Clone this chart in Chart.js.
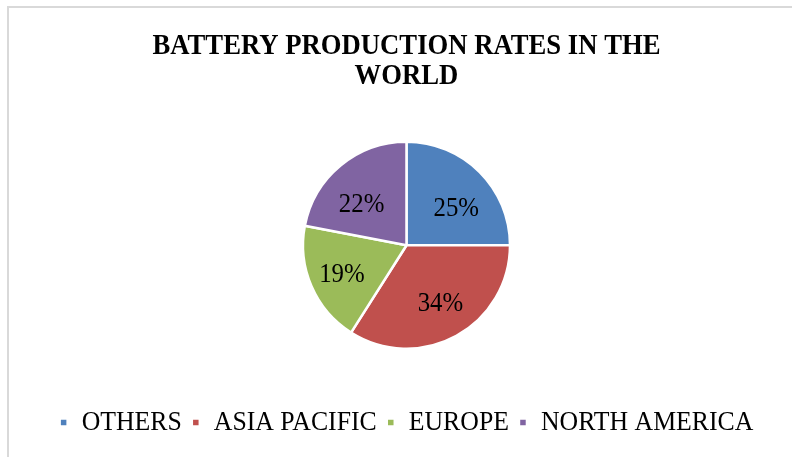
<!DOCTYPE html>
<html>
<head>
<meta charset="utf-8">
<script src="https://cdn.jsdelivr.net/npm/chart.js@4"></script>
<style>
  html, body { margin: 0; padding: 0; background: #fff; overflow: hidden; }
  #wrap { position: relative; width: 792px; height: 457px; }
  #frame { position: absolute; left: 7px; top: 6px; width: 900px; height: 600px;
           border-left: 2px solid #d9d9d9; border-top: 2px solid #d9d9d9; }
  canvas { position: absolute; left: 0; top: 0; }
</style>
</head>
<body>
<div id="wrap">
  <div id="frame"></div>
  <canvas id="c" width="792" height="457"></canvas>
</div>
<script>
const categories = ["OTHERS", "ASIA PACIFIC", "EUROPE", "NORTH AMERICA"];
const shares = [25, 34, 19, 22];
const sliceColors = ["#4F81BD", "#C0504D", "#9BBB59", "#8064A2"];
const titleLines = ["BATTERY PRODUCTION RATES IN THE", "WORLD"];

const SERIF = '"Liberation Serif", "Times New Roman", serif';
const CONDENSE = 0.92; // horizontal text compression seen in the reference

const canvas = document.getElementById('c');
const ctx = canvas.getContext('2d');
// draw all text slightly condensed horizontally, like the reference rendering
const origFill = ctx.fillText.bind(ctx);
const origMeasure = ctx.measureText.bind(ctx);
ctx.fillText = function (text, x, y, maxWidth) {
  this.save();
  this.translate(x, y);
  this.scale(CONDENSE, 1);
  if (maxWidth !== undefined) origFill(text, 0, 0, maxWidth / CONDENSE);
  else origFill(text, 0, 0);
  this.restore();
};
ctx.measureText = function (text) {
  const m = origMeasure(text);
  return {
    width: m.width * CONDENSE,
    actualBoundingBoxLeft: m.actualBoundingBoxLeft * CONDENSE,
    actualBoundingBoxRight: m.actualBoundingBoxRight * CONDENSE,
    actualBoundingBoxAscent: m.actualBoundingBoxAscent,
    actualBoundingBoxDescent: m.actualBoundingBoxDescent
  };
};

const labelPlugin = {
  id: 'sliceLabels',
  afterDatasetsDraw(chart) {
    const c = chart.ctx;
    const meta = chart.getDatasetMeta(0);
    const data = chart.data.datasets[0].data;
    const total = data.reduce((a, b) => a + b, 0);
    c.save();
    c.font = '27px ' + SERIF;
    c.fillStyle = '#000';
    c.textAlign = 'center';
    c.textBaseline = 'middle';
    meta.data.forEach((arc, i) => {
      const p = arc.getProps(['x', 'y', 'startAngle', 'endAngle', 'outerRadius'], true);
      const mid = (p.startAngle + p.endAngle) / 2;
      const rx = p.outerRadius * 0.68;
      const ry = p.outerRadius * 0.58;
      const txt = Math.round(data[i] / total * 100) + '%';
      c.fillText(txt, p.x + Math.cos(mid) * rx, p.y + Math.sin(mid) * ry + 6);
    });
    c.restore();
  }
};

new Chart(ctx, {
  type: 'pie',
  data: {
    labels: categories,
    datasets: [{
      data: shares,
      backgroundColor: sliceColors,
      borderColor: '#ffffff',
      borderWidth: 2.5,
      hoverOffset: 0
    }]
  },
  plugins: [labelPlugin],
  options: {
    responsive: false,
    animation: false,
    devicePixelRatio: 1,
    radius: 103.5,
    layout: { padding: { left: 21, right: 0, top: 0, bottom: 10.5 } },
    plugins: {
      tooltip: { enabled: false },
      title: {
        display: true,
        text: titleLines,
        color: '#000',
        font: { family: SERIF, size: 29, weight: 'bold', lineHeight: 1.034 },
        padding: { top: 32, bottom: 0 }
      },
      legend: {
        position: 'bottom',
        labels: {
          color: '#000',
          font: { family: SERIF, size: 28 },
          boxWidth: 8,
          boxHeight: 8,
          padding: 10
        }
      }
    }
  }
});
</script>
</body>
</html>
